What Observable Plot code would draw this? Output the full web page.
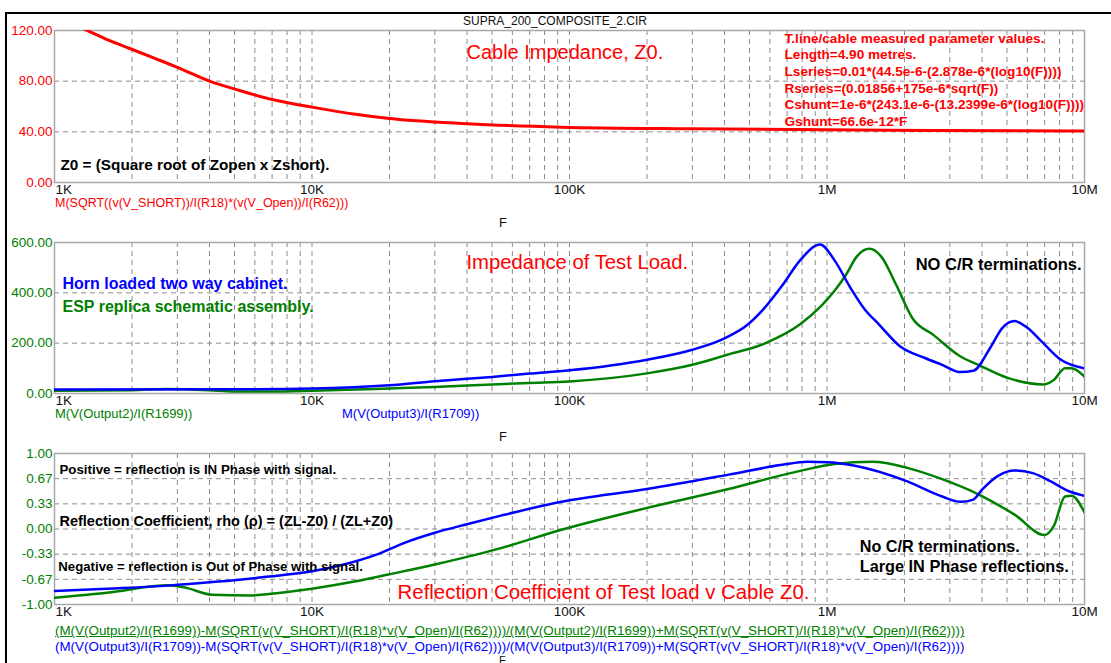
<!DOCTYPE html>
<html><head><meta charset="utf-8">
<script src="https://cdn.jsdelivr.net/npm/d3@7"></script>
<script src="https://cdn.jsdelivr.net/npm/@observablehq/plot@0.6"></script>
<style>
body{margin:0;background:#fff;}
#wrap{position:relative;width:1111px;height:663px;overflow:hidden;font-family:"Liberation Sans",Arial,sans-serif;background:#fff;}
.abs{position:absolute;white-space:nowrap;line-height:1;}
</style></head><body><div id="wrap"></div>
<script>
// ---------- data ----------
const xTickFreqs = [1e3, 1e4, 1e5, 1e6, 1e7];
const xTickLabels = ["1K", "10K", "100K", "1M", "10M"];
const gridDecades = [1e3, 1e4, 1e5, 1e6];
const gridMultipliers = [1, 2, 3, 4, 5, 6, 7, 8, 9];

const z0Ticks = [0, 40, 80, 120];
const z0TickLabels = ["0.00", "40.00", "80.00", "120.00"];
const zlTicks = [0, 200, 400, 600];
const zlTickLabels = ["0.00", "200.00", "400.00", "600.00"];
const rhoTicks = [-1, -2/3, -1/3, 0, 1/3, 2/3, 1];
const rhoTickLabels = ["-1.00", "-0.67", "-0.33", "0.00", "0.33", "0.67", "1.00"];

// Panel 1: cable impedance Z0 (ohms)
const z0Freq = [1000, 1370, 1610, 1950, 2440, 3050, 4000, 5100, 7000, 10000, 15000, 20000, 40000, 93000, 300000, 1e6, 2.6e6, 1e7];
const z0Ohms = [131, 119.2, 112.6, 106, 98.2, 90.3, 80, 73.3, 65.5, 59.5, 53.7, 50.5, 46.4, 43.7, 42.4, 41.6, 41.1, 40.6];

// Panel 2: test load impedance (ohms)
const hornFreq = [1e3, 5e3, 1e4, 2e4, 3e4, 5e4, 7e4, 1e5, 2e5, 3e5, 3.9e5, 4.94e5, 5.7e5, 6.7e5, 7.86e5, 9.4e5, 1.07e6, 1.23e6, 1.4e6, 1.59e6, 1.92e6, 2.4e6, 2.8e6, 3.3e6, 3.7e6, 4.3e6, 4.8e6, 5.35e6, 6.0e6, 6.9e6, 8.1e6, 1e7];
const hornZ = [16, 17, 20, 33, 49, 66, 79, 92, 134, 174, 214, 275, 338, 429, 529, 592, 529, 422, 335, 275, 188, 141, 114, 85, 90, 181, 261, 288, 261, 201, 134, 100];
const espFreq = [1e3, 2e3, 2.7e3, 4e3, 5e3, 7e3, 1e4, 2e4, 3e4, 5e4, 7e4, 1e5, 2e5, 3e5, 4.1e5, 5.8e5, 7.86e5, 9.5e5, 1.07e6, 1.19e6, 1.3e6, 1.46e6, 1.63e6, 1.85e6, 2.16e6, 2.58e6, 3.3e6, 3.87e6, 5e6, 6.9e6, 7.6e6, 8.4e6, 8.9e6, 1e7];
const espZ = [11, 13, 18, 13, 8, 8, 11, 20, 26, 36, 42, 48, 80, 114, 154, 201, 275, 348, 408, 475, 542, 575, 542, 435, 295, 234, 147, 114, 63, 36, 54, 100, 100, 67];

// Panel 3: reflection coefficient
const hornRhoFreq = [1e3, 1.6e3, 2.77e3, 4.2e3, 6.8e3, 1e4, 1.33e4, 1.78e4, 2.3e4, 3e4, 3.96e4, 5.46e4, 9.3e4, 2e5, 4.15e5, 6.7e5, 8.4e5, 1.01e6, 1.27e6, 2.05e6, 2.8e6, 3.3e6, 3.7e6, 4.0e6, 4.6e6, 5.35e6, 6.3e6, 7.4e6, 8.7e6, 1e7];
const hornRho = [-0.82, -0.79, -0.75, -0.70, -0.63, -0.56, -0.47, -0.34, -0.18, -0.05, 0.06, 0.18, 0.36, 0.53, 0.72, 0.85, 0.89, 0.885, 0.84, 0.63, 0.43, 0.36, 0.39, 0.52, 0.70, 0.775, 0.74, 0.63, 0.50, 0.44];
const espRhoFreq = [1e3, 1.6e3, 2.77e3, 3.25e3, 4.07e3, 5.8e3, 6.8e3, 1e4, 1.5e4, 2e4, 3e4, 5.46e4, 9.3e4, 2e5, 4.15e5, 7.86e5, 1.07e6, 1.5e6, 2.05e6, 2.8e6, 3.87e6, 5.35e6, 7.0e6, 7.6e6, 8.4e6, 8.9e6, 1e7];
const espRho = [-0.91, -0.845, -0.745, -0.78, -0.87, -0.88, -0.86, -0.79, -0.69, -0.60, -0.47, -0.25, -0.01, 0.28, 0.53, 0.77, 0.86, 0.89, 0.81, 0.66, 0.46, 0.19, -0.08, 0.04, 0.43, 0.44, 0.22];

// ---------- helpers ----------
const RED = "#ff0000", GREEN = "#008000", BLUE = "#0000ff";
const FONT = "'Liberation Sans', Arial, sans-serif";
const gridFreqs = gridDecades.flatMap(d => gridMultipliers.map(m => d * m)).concat([1e7]);
const zip = (xs, ys) => xs.map((x, i) => ({x, y: ys[i]}));
const wrap = document.getElementById("wrap");

function addDiv(text, style) {
  const d = document.createElement("div");
  d.className = "abs";
  d.textContent = text;
  Object.assign(d.style, style);
  wrap.appendChild(d);
  return d;
}

function panel({top, plotH, yDomain, yTicks, yLabels, yColor, marks}) {
  const mt = 10, mb = 22;
  const xt = xTickFreqs.map((f, i) => ({f, t: xTickLabels[i]}));
  const yt = yTicks.map((v, i) => ({v, t: yLabels[i]}));
  const svg = Plot.plot({
    width: 1111, height: mt + plotH + mb,
    marginLeft: 54, marginRight: 27, marginTop: mt, marginBottom: mb,
    x: {type: "log", domain: [1e3, 1e7], axis: null},
    y: {domain: yDomain, axis: null},
    style: {background: "transparent", fontFamily: FONT, overflow: "visible"},
    marks: [
      Plot.ruleX(gridFreqs, {x: d => d, stroke: "#8c8c8c", strokeWidth: 1, strokeDasharray: "5,4"}),
      Plot.ruleY(yTicks, {y: d => d, stroke: "#8c8c8c", strokeWidth: 1, strokeDasharray: "5,4"}),
      Plot.frame({stroke: "#a8a8a8", strokeWidth: 1.5}),
      ...marks,
      Plot.text(yt, {y: "v", text: "t", frameAnchor: "left", dx: -2, textAnchor: "end", fill: yColor, fontSize: 13.5}),
      Plot.text(xt.slice(0, 1), {x: "f", text: "t", frameAnchor: "bottom", dy: 11, dx: 1, textAnchor: "start", fill: "#111", fontSize: 13.5}),
      Plot.text(xt.slice(1), {x: "f", text: "t", frameAnchor: "bottom", dy: 11, textAnchor: "middle", fill: "#111", fontSize: 13.5})
    ]
  });
  svg.style.position = "absolute";
  svg.style.top = (top - mt) + "px";
  svg.style.left = "0px";
  wrap.appendChild(svg);
}

// frame lines and title
addDiv("", {left: "5px", top: "12px", width: "2px", height: "651px", background: "#000"});
addDiv("", {left: "5px", top: "12px", width: "1106px", height: "2px", background: "#000"});
addDiv("SUPRA_200_COMPOSITE_2.CIR", {left: "555px", top: "15px", transform: "translateX(-50%)", fontSize: "12px", color: "#111"});

// ---------- panel 1 ----------
panel({
  top: 30, plotH: 152, yDomain: [0, 120], yTicks: z0Ticks, yLabels: z0TickLabels, yColor: RED,
  marks: [
    Plot.line(zip(z0Freq, z0Ohms), {x: "x", y: "y", stroke: RED, strokeWidth: 3, curve: "monotone-x", clip: true}),
    Plot.text([{x: 39800, y: 102.6, t: "Cable Impedance, Z0."}], {x: "x", y: "y", text: "t", textAnchor: "start", fill: RED, fontSize: 20}),
    Plot.text([{x: 684000, y: 119.5, t: "T.line/cable measured parameter values.\nLength=4.90 metres.\nLseries=0.01*(44.5e-6-(2.878e-6*(log10(F))))\nRseries=(0.01856+175e-6*sqrt(F))\nCshunt=1e-6*(243.1e-6-(13.2399e-6*(log10(F))))\nGshunt=66.6e-12*F"}],
      {x: "x", y: "y", text: "t", textAnchor: "start", lineAnchor: "top", lineHeight: 1.22, fill: RED, fontSize: 13.6, fontWeight: "bold"}),
    Plot.text([{x: 1055, y: 13.4, t: "Z0 = (Square root of Zopen x Zshort)."}], {x: "x", y: "y", text: "t", textAnchor: "start", fill: "#000", fontSize: 15.3, fontWeight: "bold"})
  ]
});
addDiv("M(SQRT((v(V_SHORT))/I(R18)*(v(V_Open))/I(R62)))", {left: "55px", top: "197px", fontSize: "12.5px", color: RED});
addDiv("F", {left: "499px", top: "216px", fontSize: "13px", color: "#111"});

// ---------- panel 2 ----------
panel({
  top: 242, plotH: 151, yDomain: [0, 600], yTicks: zlTicks, yLabels: zlTickLabels, yColor: GREEN,
  marks: [
    Plot.line(zip(espFreq, espZ), {x: "x", y: "y", stroke: GREEN, strokeWidth: 2.5, curve: "monotone-x", clip: true}),
    Plot.line(zip(hornFreq, hornZ), {x: "x", y: "y", stroke: BLUE, strokeWidth: 2.5, curve: "monotone-x", clip: true}),
    Plot.text([{x: 39800, y: 520, t: "Impedance of Test Load."}], {x: "x", y: "y", text: "t", textAnchor: "start", fill: RED, fontSize: 20.3}),
    Plot.text([{x: 1074, y: 437, t: "Horn loaded two way cabinet."}], {x: "x", y: "y", text: "t", textAnchor: "start", fill: BLUE, fontSize: 16, fontWeight: "bold"}),
    Plot.text([{x: 1074, y: 343, t: "ESP replica schematic assembly."}], {x: "x", y: "y", text: "t", textAnchor: "start", fill: GREEN, fontSize: 16, fontWeight: "bold"}),
    Plot.text([{x: 2.21e6, y: 512, t: "NO C/R terminations."}], {x: "x", y: "y", text: "t", textAnchor: "start", fill: "#000", fontSize: 16.5, fontWeight: "bold"})
  ]
});
addDiv("M(V(Output2)/I(R1699))", {left: "55px", top: "407px", fontSize: "13px", color: GREEN});
addDiv("M(V(Output3)/I(R1709))", {left: "342px", top: "407px", fontSize: "13px", color: BLUE});
addDiv("F", {left: "499px", top: "430px", fontSize: "13px", color: "#111"});

// ---------- panel 3 ----------
panel({
  top: 453, plotH: 151, yDomain: [-1, 1], yTicks: rhoTicks, yLabels: rhoTickLabels, yColor: GREEN,
  marks: [
    Plot.line(zip(espRhoFreq, espRho), {x: "x", y: "y", stroke: GREEN, strokeWidth: 2.5, curve: "monotone-x", clip: true}),
    Plot.line(zip(hornRhoFreq, hornRho), {x: "x", y: "y", stroke: BLUE, strokeWidth: 2.5, curve: "monotone-x", clip: true}),
    Plot.text([{x: 1045, y: 0.78, t: "Positive = reflection is IN Phase with signal."}], {x: "x", y: "y", text: "t", textAnchor: "start", fill: "#000", fontSize: 13.3, fontWeight: "bold"}),
    Plot.text([{x: 1045, y: 0.10, t: "Reflection Coefficient, rho (ρ) = (ZL-Z0) / (ZL+Z0)"}], {x: "x", y: "y", text: "t", textAnchor: "start", fill: "#000", fontSize: 14.5, fontWeight: "bold"}),
    Plot.text([{x: 1035, y: -0.506, t: "Negative = reflection is Out of Phase with signal."}], {x: "x", y: "y", text: "t", textAnchor: "start", fill: "#000", fontSize: 13.2, fontWeight: "bold"}),
    Plot.text([{x: 21500, y: -0.837, t: "Reflection Coefficient of Test load v Cable Z0."}], {x: "x", y: "y", text: "t", textAnchor: "start", fill: RED, fontSize: 20.4}),
    Plot.text([{x: 1.34e6, y: -0.232, t: "No C/R terminations."}], {x: "x", y: "y", text: "t", textAnchor: "start", fill: "#000", fontSize: 16.2, fontWeight: "bold"}),
    Plot.text([{x: 1.34e6, y: -0.497, t: "Large IN Phase reflections."}], {x: "x", y: "y", text: "t", textAnchor: "start", fill: "#000", fontSize: 16.3, fontWeight: "bold"})
  ]
});
addDiv("(M(V(Output2)/I(R1699))-M(SQRT(v(V_SHORT)/I(R18)*v(V_Open)/I(R62))))/(M(V(Output2)/I(R1699))+M(SQRT(v(V_SHORT)/I(R18)*v(V_Open)/I(R62))))",
  {left: "55px", top: "624px", fontSize: "13.4px", color: GREEN, textDecoration: "underline"});
addDiv("(M(V(Output3)/I(R1709))-M(SQRT(v(V_SHORT)/I(R18)*v(V_Open)/I(R62))))/(M(V(Output3)/I(R1709))+M(SQRT(v(V_SHORT)/I(R18)*v(V_Open)/I(R62))))",
  {left: "55px", top: "640px", fontSize: "13.4px", color: BLUE});
addDiv("F", {left: "499px", top: "655px", fontSize: "11px", color: "#111"});
</script></body></html>
